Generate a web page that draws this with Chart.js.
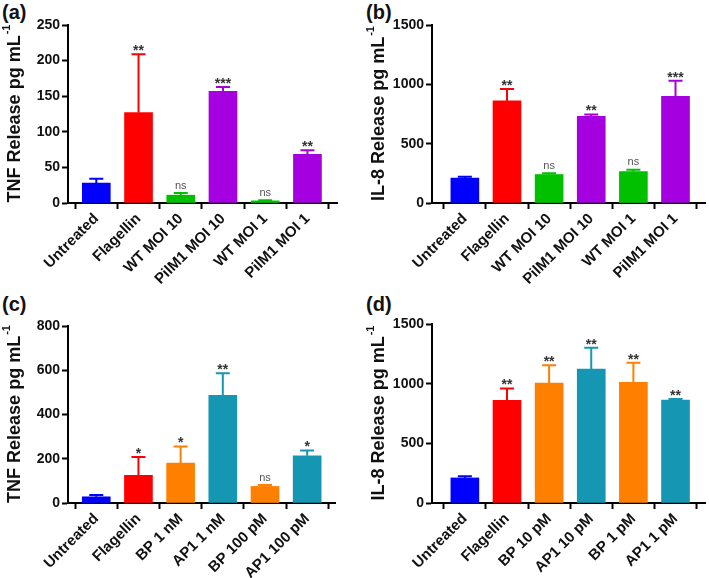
<!DOCTYPE html>
<html>
<head>
<meta charset="utf-8">
<script src="https://cdn.jsdelivr.net/npm/chart.js@4"></script>
<style>
  body { margin: 0; background: #fff; width: 709px; height: 578px; position: relative; overflow: hidden; font-family: "Liberation Sans", Arial, sans-serif; }
  canvas { position: absolute; }
  .tag { position: absolute; font-weight: bold; font-size: 20px; color: #111; }
</style>
</head>
<body>
<div class="tag" style="left:2px;top:1px">(a)</div>
<div class="tag" style="left:366px;top:1px">(b)</div>
<div class="tag" style="left:2px;top:293px">(c)</div>
<div class="tag" style="left:366px;top:293px">(d)</div>
<canvas id="chartA" style="left:0;top:0"></canvas>
<canvas id="chartB" style="left:355px;top:0"></canvas>
<canvas id="chartC" style="left:0;top:289px"></canvas>
<canvas id="chartD" style="left:355px;top:289px"></canvas>
<script>
// Data (means and upper error amounts)
const labelsAB = ['Untreated', 'Flagellin', 'WT MOI 10', 'PilM1 MOI 10', 'WT MOI 1', 'PilM1 MOI 1'];
const tnfA = [28, 127, 11, 157, 3, 68.5];
const tnfAErr = [6, 82, 3, 6, 1, 5.5];
const sigA = ['', '**', 'ns', '***', 'ns', '**'];

const il8B = [210, 860, 240, 730, 265, 898];
const il8BErr = [12, 100, 10, 15, 15, 132];
const sigB = ['', '**', 'ns', '**', 'ns', '***'];

const labelsC = ['Untreated', 'Flagellin', 'BP 1 nM', 'AP1 1 nM', 'BP 100 pM', 'AP1 100 pM'];
const tnfC = [28, 125, 180, 487, 75, 213];
const tnfCErr = [8, 83, 75, 100, 6, 24];
const sigC = ['', '*', '*', '**', 'ns', '*'];

const labelsD = ['Untreated', 'Flagellin', 'BP 10 pM', 'AP1 10 pM', 'BP 1 pM', 'AP1 1 pM'];
const il8D = [210, 860, 1005, 1122, 1012, 862];
const il8DErr = [14, 100, 150, 178, 163, 10];
const sigD = ['', '**', '**', '**', '**', '**'];

const BLUE = '#0000FF', RED = '#FF0000', GREEN = '#00C000', PURPLE = '#A400E0', ORANGE = '#FF8000', TEAL = '#1597B3';
const colorsAB = [BLUE, RED, GREEN, PURPLE, GREEN, PURPLE];
const colorsCD = [BLUE, RED, ORANGE, TEAL, ORANGE, TEAL];
const FONT = '"Liberation Sans", Arial, sans-serif';

// error bars (upper only) + significance marks, drawn through the scales
const errorBars = {
    id: 'errorBars',
    afterDatasetsDraw(chart) {
        const c = chart.ctx;
        const ys = chart.scales.y;
        const ds = chart.data.datasets[0];
        const meta = chart.getDatasetMeta(0);
        meta.data.forEach((bar, i) => {
            const top = ys.getPixelForValue(ds.data[i].y + ds.errors[i]);
            c.save();
            c.strokeStyle = ds.backgroundColor[i];
            c.lineWidth = 2;
            c.beginPath();
            c.moveTo(bar.x, bar.y);
            c.lineTo(bar.x, top);
            c.moveTo(bar.x - 7, top);
            c.lineTo(bar.x + 7, top);
            c.stroke();
            const s = ds.sig[i];
            if (s) {
                c.textAlign = 'center';
                c.textBaseline = 'bottom';
                if (s === 'ns') {
                    c.fillStyle = '#555';
                    c.font = '11px ' + FONT;
                    c.fillText(s, bar.x, top - 2);
                } else {
                    c.fillStyle = '#333';
                    c.font = 'bold 14px ' + FONT;
                    c.fillText(s, bar.x, top + 4);
                }
            }
            c.restore();
        });
    }
};

// y axis title with superscript -1
const yTitle = {
    id: 'yTitle',
    afterDraw(chart, args, opts) {
        const c = chart.ctx;
        const a = chart.chartArea;
        const main = opts.text + ' pg mL';
        c.save();
        c.translate(opts.x, (a.top + a.bottom) / 2);
        c.rotate(-Math.PI / 2);
        c.font = 'bold 18px ' + FONT;
        const w1 = c.measureText(main).width;
        c.font = 'bold 11px ' + FONT;
        const w2 = c.measureText('-1').width;
        const start = -(w1 + w2) / 2;
        c.fillStyle = '#111';
        c.textBaseline = 'middle';
        c.textAlign = 'left';
        c.font = 'bold 18px ' + FONT;
        c.fillText(main, start, 0);
        c.font = 'bold 11px ' + FONT;
        c.fillText('-1', start + w1 + 1, -8);
        c.restore();
    }
};

function makeChart(id, w, h, box, labels, values, errors, sig, colors, yMax, step, xMin, xMax, title) {
    const cv = document.getElementById(id);
    cv.width = w;
    cv.height = h;
    return new Chart(cv.getContext('2d'), {
        type: 'bar',
        data: {
            datasets: [{
                data: values.map((v, i) => ({ x: i, y: v })),
                errors: errors,
                sig: sig,
                backgroundColor: colors,
                barThickness: 28
            }]
        },
        options: {
            responsive: false,
            animation: false,
            layout: { padding: { left: 0, top: box.top, right: w - box.right, bottom: 0 } },
            plugins: {
                legend: { display: false },
                tooltip: { enabled: false },
                yTitle: { text: title, x: box.left - 53 }
            },
            scales: {
                x: {
                    type: 'linear',
                    offset: false,
                    min: xMin,
                    max: xMax,
                    afterBuildTicks: s => { s.ticks = labels.map((_, i) => ({ value: i })); },
                    afterFit: s => { s.height = h - box.bottom; },
                    border: { color: '#000', width: 2 },
                    grid: { drawOnChartArea: false, tickLength: 6, tickWidth: 2, tickColor: '#000' },
                    ticks: {
                        autoSkip: false,
                        minRotation: 45,
                        maxRotation: 45,
                        padding: 1,
                        color: '#111',
                        font: { family: FONT, size: 15, weight: 'bold' },
                        callback: v => labels[v]
                    }
                },
                y: {
                    min: 0,
                    max: yMax,
                    afterFit: s => { s.width = box.left; },
                    border: { color: '#000', width: 2 },
                    grid: { drawOnChartArea: false, tickLength: 6, tickWidth: 2, tickColor: '#000' },
                    ticks: {
                        stepSize: step,
                        padding: 2,
                        color: '#111',
                        font: { family: FONT, size: 14, weight: 'bold' },
                        callback: v => String(v)
                    }
                }
            }
        },
        plugins: [errorBars, yTitle]
    });
}

makeChart('chartA', 355, 289, { left: 68, right: 337, top: 25, bottom: 203 },
    labelsAB, tnfA, tnfAErr, sigA, colorsAB, 250, 50, -0.67, 5.7, 'TNF Release');
makeChart('chartB', 354, 289, { left: 77, right: 350, top: 25, bottom: 203 },
    labelsAB, il8B, il8BErr, sigB, colorsAB, 1500, 500, -0.78, 5.7, 'IL-8 Release');
makeChart('chartC', 355, 289, { left: 68, right: 335, top: 37, bottom: 214 },
    labelsC, tnfC, tnfCErr, sigC, colorsCD, 800, 200, -0.67, 5.66, 'TNF Release');
makeChart('chartD', 354, 289, { left: 77, right: 350, top: 35, bottom: 214 },
    labelsD, il8D, il8DErr, sigD, colorsCD, 1500, 500, -0.78, 5.7, 'IL-8 Release');
</script>
</body>
</html>
